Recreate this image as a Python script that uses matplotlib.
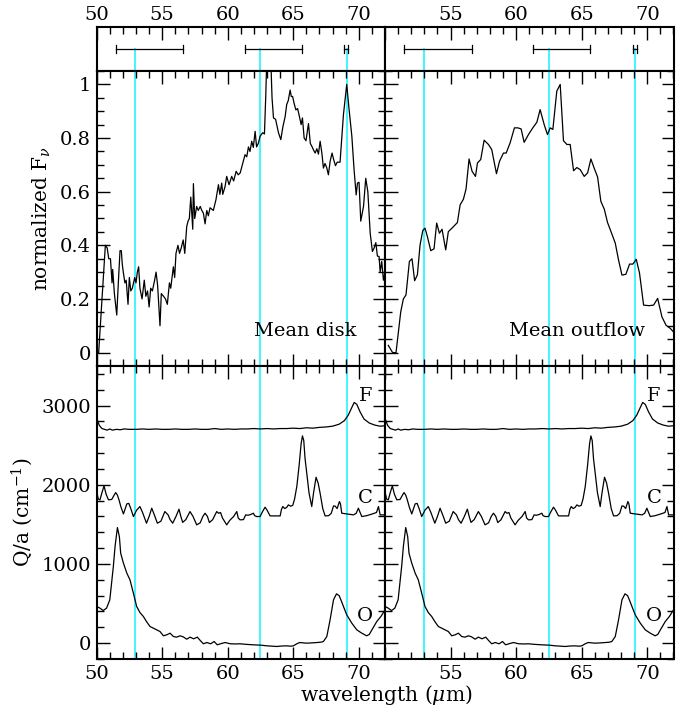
import matplotlib
matplotlib.use("Agg")
import matplotlib.pyplot as plt
from matplotlib.ticker import MultipleLocator, FixedLocator, FixedFormatter

plt.rcParams['font.family'] = ['DejaVu Serif']
plt.rcParams['mathtext.fontset'] = 'dejavuserif'

# ---------------- data ----------------
feature_wl = [52.95, 62.47, 69.07]            # cyan lines
bar_lo = [51.45, 61.30, 68.90]                  # error bar extents
bar_hi = [56.62, 65.63, 69.18]

disk_wl = [50.15, 50.66, 50.80, 50.92, 51.05, 51.17, 51.22, 51.35, 51.53, 51.65,
           51.78, 51.88, 51.95, 52.03, 52.15, 52.25, 52.39, 52.49, 52.60, 52.72,
           52.90, 53.00, 53.10, 53.20, 53.30, 53.46, 53.63, 53.75, 53.88, 54.00,
           54.12, 54.25, 54.42, 54.53, 54.65, 54.83, 54.93, 55.10, 55.25, 55.39,
           55.55, 55.65, 55.85, 55.95, 56.05, 56.20, 56.32, 56.45, 56.60, 56.72,
           56.87, 56.97, 57.07, 57.18, 57.33, 57.38, 57.48, 57.63, 57.75, 57.90,
           58.02, 58.14, 58.27, 58.40, 58.52, 58.65, 58.90, 59.10, 59.29, 59.40,
           59.54, 59.62, 59.80, 59.92, 60.10, 60.30, 60.45, 60.64, 60.80, 60.95,
           61.15, 61.32, 61.45, 61.58, 61.70, 61.83, 61.95, 62.09, 62.20, 62.33,
           62.47, 62.67, 62.80, 62.90, 62.98, 63.28, 63.38, 63.49, 63.65, 63.87,
           64.05, 64.20, 64.38, 64.50, 64.62, 64.76, 64.85, 64.95, 65.06, 65.20,
           65.33, 65.47, 65.60, 65.70, 65.83, 65.97, 66.16, 66.30, 66.44, 66.55,
           66.67, 66.80, 66.92, 67.05, 67.18, 67.30, 67.42, 67.55, 67.68, 67.82,
           67.96, 68.08, 68.22, 68.35, 68.57, 68.83, 69.08, 69.26, 69.47, 69.64,
           69.80, 69.90, 70.02, 70.15, 70.36, 70.53, 70.69, 70.87, 71.04, 71.17,
           71.30, 71.42, 71.55, 71.63, 71.75, 71.88, 72.00]
disk_f = [0.00, 0.40, 0.39, 0.35, 0.35, 0.26, 0.31, 0.22, 0.14, 0.26,
          0.38, 0.38, 0.33, 0.30, 0.26, 0.27, 0.18, 0.28, 0.23, 0.24,
          0.28, 0.26, 0.30, 0.32, 0.24, 0.20, 0.27, 0.21, 0.23, 0.17,
          0.24, 0.23, 0.27, 0.30, 0.25, 0.10, 0.22, 0.21, 0.20, 0.18,
          0.26, 0.24, 0.32, 0.28, 0.37, 0.40, 0.37, 0.39, 0.42, 0.37,
          0.47, 0.49, 0.50, 0.58, 0.46, 0.63, 0.50, 0.545, 0.53, 0.545,
          0.53, 0.52, 0.48, 0.53, 0.51, 0.54, 0.53, 0.57, 0.626, 0.59,
          0.632, 0.59, 0.62, 0.657, 0.626, 0.657, 0.64, 0.676, 0.663, 0.67,
          0.707, 0.738, 0.73, 0.767, 0.75, 0.788, 0.765, 0.825, 0.767, 0.78,
          0.807, 0.82, 0.815, 0.956, 1.10, 1.10, 0.95, 0.875, 0.87, 0.82,
          0.794, 0.84, 0.88, 0.925, 0.94, 0.979, 0.955, 0.955, 0.93, 0.905,
          0.91, 0.88, 0.85, 0.875, 0.80, 0.79, 0.854, 0.78, 0.767, 0.755,
          0.744, 0.76, 0.74, 0.788, 0.745, 0.688, 0.705, 0.69, 0.663, 0.715,
          0.744, 0.72, 0.697, 0.71, 0.71, 0.888, 1.00, 0.906, 0.807, 0.682,
          0.588, 0.632, 0.635, 0.49, 0.545, 0.65, 0.60, 0.445, 0.377, 0.39,
          0.41, 0.36, 0.358, 0.30, 0.34, 0.27, 0.30]

outflow_wl = [50.25, 50.58, 50.84, 51.20, 51.40, 51.60, 51.86, 52.06, 52.26, 52.47,
              52.67, 52.88, 53.05, 53.23, 53.49, 53.74, 53.94, 54.15, 54.35, 54.63,
              54.83, 55.17, 55.52, 55.73, 55.98, 56.18, 56.41, 56.64, 56.90, 57.05,
              57.30, 57.56, 57.89, 58.14, 58.50, 58.73, 59.03, 59.24, 59.54, 59.87,
              60.13, 60.38, 60.61, 60.94, 61.27, 61.58, 61.83, 62.14, 62.39, 62.60,
              62.80, 63.10, 63.36, 63.61, 63.87, 64.12, 64.38, 64.63, 64.89, 65.19,
              65.45, 65.70, 65.95, 66.21, 66.46, 66.72, 66.97, 67.28, 67.56, 67.81,
              68.07, 68.37, 68.65, 68.90, 69.16, 69.41, 69.72, 70.13, 70.48, 70.79,
              71.12, 71.43, 71.76, 72.00]
outflow_f = [0.027, 0.00, 0.00, 0.152, 0.20, 0.215, 0.34, 0.35, 0.268, 0.29,
             0.40, 0.455, 0.464, 0.433, 0.38, 0.387, 0.483, 0.445, 0.46, 0.383,
             0.451, 0.467, 0.485, 0.551, 0.572, 0.61, 0.722, 0.676, 0.657, 0.707,
             0.72, 0.792, 0.776, 0.757, 0.667, 0.713, 0.744, 0.744, 0.782, 0.838,
             0.838, 0.834, 0.784, 0.813, 0.838, 0.859, 0.906, 0.85, 0.813, 0.838,
             0.832, 0.975, 1.00, 0.79, 0.776, 0.776, 0.678, 0.69, 0.682, 0.657,
             0.67, 0.722, 0.688, 0.655, 0.564, 0.535, 0.485, 0.445, 0.408, 0.345,
             0.289, 0.292, 0.33, 0.33, 0.348, 0.296, 0.177, 0.175, 0.177, 0.202,
             0.133, 0.102, 0.09, 0.077]

F_wl = [50.0, 50.2, 50.4, 50.6, 50.8, 51.0, 51.2, 51.5, 51.8, 52.1, 52.5, 53.0,
        53.5, 54.0, 54.5, 55.0, 55.5, 56.0, 56.5, 57.0, 57.5, 58.0, 58.5, 59.0,
        59.5, 60.0, 60.5, 61.0, 61.5, 62.0, 62.5, 63.0, 63.5, 64.0, 64.5, 65.0,
        65.5, 66.0, 66.5, 67.0, 67.5, 68.0, 68.5, 68.9, 69.2, 69.45, 69.65, 69.85,
        70.1, 70.4, 70.8, 71.2, 71.6, 72.0]
F_q = [2840, 2750, 2710, 2700, 2690, 2705, 2690, 2700, 2695, 2705, 2700, 2700,
       2705, 2700, 2705, 2700, 2700, 2705, 2700, 2700, 2705, 2700, 2700, 2710,
       2700, 2705, 2700, 2705, 2705, 2710, 2705, 2710, 2705, 2710, 2710, 2715,
       2710, 2720, 2715, 2725, 2730, 2740, 2765, 2810, 2880, 2970, 3040, 3015,
       2920, 2830, 2780, 2755, 2740, 2745]

C_wl = [50.0, 50.12, 50.25, 50.4, 50.56, 50.72, 50.9, 51.15, 51.3, 51.45, 51.58, 51.7,
        51.85, 52.04, 52.18, 52.3, 52.45, 52.6, 52.8, 53.05, 53.3, 53.5, 53.8, 54.0,
        54.2, 54.4, 54.63, 54.9, 55.2, 55.45, 55.6, 55.8, 56.05, 56.28, 56.42, 56.56,
        56.8, 57.12, 57.35, 57.63, 57.9, 58.1, 58.27, 58.45, 58.6, 58.85, 59.16, 59.3,
        59.45, 59.6, 59.92, 60.15, 60.45, 60.69, 60.8, 60.94, 61.2, 61.37, 61.55, 61.75,
        61.96, 62.05, 62.21, 62.47, 62.65, 62.85, 63.0, 63.23, 63.6, 64.0, 64.1, 64.2,
        64.35, 64.5, 64.63, 64.8, 64.96, 65.1, 65.27, 65.45, 65.6, 65.7, 65.8, 65.9,
        66.03, 66.2, 66.41, 66.55, 66.74, 66.9, 67.05, 67.25, 67.43, 67.7, 67.9, 68.07,
        68.2, 68.35, 68.52, 68.6, 68.7, 69.08, 69.6, 69.8, 69.97, 70.1, 70.23, 70.6,
        71.0, 71.35, 71.5, 71.63, 72.0]
C_q = [1915, 1820, 1810, 1900, 1986, 1880, 1810, 1815, 1860, 1902, 1870, 1810,
       1720, 1632, 1700, 1759, 1765, 1700, 1599, 1680, 1725, 1650, 1515, 1600,
       1704, 1620, 1515, 1540, 1662, 1620, 1560, 1515, 1600, 1692, 1600, 1525,
       1560, 1662, 1600, 1494, 1520, 1600, 1641, 1600, 1523, 1560, 1662, 1640,
       1650, 1580, 1494, 1550, 1600, 1662, 1580, 1557, 1560, 1620, 1615, 1625,
       1641, 1610, 1599, 1599, 1660, 1717, 1680, 1607, 1607, 1607, 1690, 1725,
       1700, 1715, 1746, 1730, 1740, 1820, 1978, 2250, 2520, 2617, 2560, 2330,
       2146, 1900, 1725, 1900, 2095, 2020, 1893, 1700, 1607, 1610, 1640, 1733,
       1730, 1700, 1788, 1760, 1641, 1632, 1620, 1640, 1704, 1650, 1599, 1610,
       1630, 1650, 1725, 1620, 1620]

O_wl = [50.0, 50.25, 50.5, 50.75, 51.0, 51.27, 51.4, 51.58, 51.73, 51.83, 52.04, 52.3,
        52.54, 52.8, 53.05, 53.3, 53.56, 53.8, 54.07, 54.33, 54.58, 54.83, 55.09, 55.34,
        55.6, 55.85, 56.1, 56.36, 56.6, 56.87, 57.12, 57.4, 57.68, 57.9, 58.14, 58.4,
        58.7, 58.96, 59.2, 59.5, 59.8, 60.2, 60.6, 60.94, 61.4, 61.96, 62.5, 63.0,
        63.4, 63.74, 64.1, 64.5, 64.8, 65.0, 65.3, 65.5, 66.0, 66.4, 66.8, 67.1,
        67.3, 67.56, 67.81, 68.07, 68.3, 68.5, 68.7, 68.83, 69.08, 69.47, 69.85, 70.23,
        70.6, 70.8, 71.0, 71.37, 71.7, 72.0]
O_q = [463, 442, 412, 442, 547, 968, 1220, 1460, 1346, 1136, 1010, 884,
       799, 631, 463, 387, 337, 273, 210, 189, 168, 147, 93, 105,
       126, 84, 76, 93, 80, 50, 76, 55, 76, 34, -8, 8,
       -8, 21, -21, -5, 8, -8, -10, -8, -15, -21, -25, -34,
       -38, -42, -36, -34, -38, -34, -5, 8, 0, 3, 8, 12,
       21, 84, 295, 547, 623, 600, 520, 463, 358, 252, 168, 126,
       93, 110, 168, 273, 340, 421]

spec_names = ["Mean disk", "Mean outflow"]
spec_wl = [disk_wl, outflow_wl]
spec_f = [disk_f, outflow_f]
curve_wl = [F_wl, C_wl, O_wl]
curve_q = [F_q, C_q, O_q]
curve_names = ["F", "C", "O"]
curve_label_q = [3120, 1830, 345]

x_ticks = [50, 55, 60, 65, 70]
top_yticks = [0, 0.2, 0.4, 0.6, 0.8, 1.0]
top_ylabels = ["0", "0.2", "0.4", "0.6", "0.8", "1"]
bot_yticks = [0, 1000, 2000, 3000]
bot_ylabels = ["0", "1000", "2000", "3000"]

# ---------------- figure ----------------
W, H = 691, 717
fig = plt.figure(figsize=(W / 100, H / 100), dpi=100)

def frac(x0, y0, x1, y1):
    return [x0 / W, 1 - y1 / H, (x1 - x0) / W, (y1 - y0) / H]

cols = [(96.7, 385.0), (385.0, 673.5)]
CYAN = '#33f5ff'
FS = 14
LFS = 14.5

def common(ax):
    ax.set_xlim(50, 72)
    ax.xaxis.set_major_locator(FixedLocator(x_ticks))
    ax.xaxis.set_minor_locator(MultipleLocator(1))
    for s in ax.spines.values():
        s.set_linewidth(1.5)
    ax.tick_params(which='both', direction='in', width=1, labelsize=FS, pad=4)
    ax.tick_params(which='major', length=9)
    ax.tick_params(which='minor', length=5)

for ci, (x0, x1) in enumerate(cols):
    # strip with bars
    axs = fig.add_axes(frac(x0, 27, x1, 71))
    common(axs)
    axs.set_ylim(0, 1)
    axs.tick_params(axis='x', which='both', top=True, bottom=False,
                    labeltop=True, labelbottom=False, pad=2)
    axs.tick_params(axis='y', which='both', left=False, right=False,
                    labelleft=False)
    if ci == 0:
        axs.xaxis.set_major_formatter(FixedFormatter([str(v) for v in x_ticks]))
    else:
        axs.xaxis.set_major_formatter(FixedFormatter([""] + [str(v) for v in x_ticks[1:]]))
    for lo, hi in zip(bar_lo, bar_hi):
        axs.plot([lo, hi], [0.5, 0.5], color='k', lw=0.9)
        axs.plot([lo, lo], [0.42, 0.58], color='k', lw=0.9)
        axs.plot([hi, hi], [0.42, 0.58], color='k', lw=0.9)
    for w in feature_wl:
        axs.plot([w, w], [0, 0.5], color=CYAN, lw=1.3, zorder=1)

    # spectrum panel
    axt = fig.add_axes(frac(x0, 71, x1, 366))
    common(axt)
    axt.set_ylim(-0.05, 1.05)
    axt.tick_params(which='both', top=True, right=True, labelbottom=False)
    axt.yaxis.set_major_locator(FixedLocator(top_yticks))
    axt.yaxis.set_minor_locator(MultipleLocator(0.05))
    if ci == 0:
        axt.yaxis.set_major_formatter(FixedFormatter(top_ylabels))
        axt.set_ylabel(r'normalized F$_\nu$', fontsize=LFS, labelpad=5)
    else:
        axt.tick_params(labelleft=False)
    for w in feature_wl:
        axt.axvline(w, color=CYAN, lw=1.3, zorder=1)
    axt.plot(spec_wl[ci], spec_f[ci], color='k', lw=0.9, zorder=3)
    axt.text(0.90, 0.12, spec_names[ci],
             transform=axt.transAxes, ha='right', va='center', fontsize=FS)

    # Q/a panel
    axb = fig.add_axes(frac(x0, 366, x1, 659))
    common(axb)
    axb.set_ylim(-200, 3500)
    axb.tick_params(which='both', top=True, right=True)
    axb.yaxis.set_major_locator(FixedLocator(bot_yticks))
    axb.yaxis.set_minor_locator(MultipleLocator(200))
    if ci == 0:
        axb.yaxis.set_major_formatter(FixedFormatter(bot_ylabels))
        axb.set_ylabel(r'Q/a (cm$^{-1}$)', fontsize=LFS, labelpad=5)
        axb.xaxis.set_major_formatter(FixedFormatter([str(v) for v in x_ticks]))
    else:
        axb.tick_params(labelleft=False)
        axb.xaxis.set_major_formatter(FixedFormatter([""] + [str(v) for v in x_ticks[1:]]))
    for w in feature_wl:
        axb.axvline(w, color=CYAN, lw=1.3, zorder=1)
    for wl, q, nm, lq in zip(curve_wl, curve_q, curve_names, curve_label_q):
        axb.plot(wl, q, color='k', lw=0.9, zorder=3)
        axb.text(70.5, lq, nm, ha='center', va='center', fontsize=FS)

fig.text(386 / W, 1 - 695 / H, r'wavelength ($\mu$m)', ha='center', va='center',
         fontsize=LFS)

fig.savefig('out.png', dpi=100)
